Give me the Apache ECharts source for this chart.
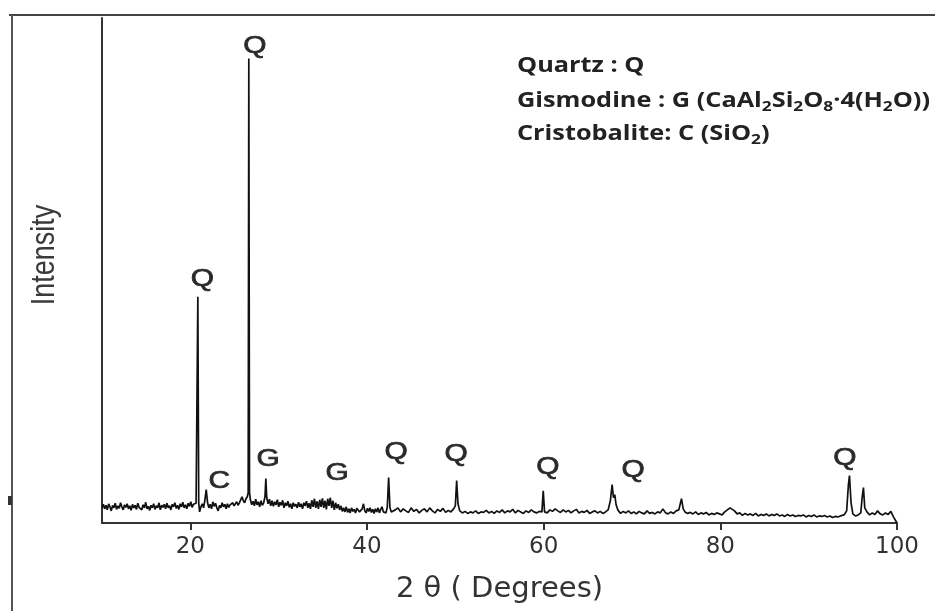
<!DOCTYPE html>
<html>
<head>
<meta charset="utf-8">
<script src="https://cdn.jsdelivr.net/npm/echarts@6/dist/echarts.min.js"></script>
<style>html,body{margin:0;padding:0;background:#fff;}#chart{width:935px;height:611px;}</style>
</head>
<body>
<div id="chart"></div>
<script>
// XRD pattern: [2θ (degrees), intensity (a.u.)]
const pattern = [
[10.00,150],[10.15,185],[10.30,140],[10.45,175],[10.60,130],[10.75,190],[10.90,160],[11.05,120],[11.20,175],[11.35,150],
[11.50,195],[11.65,135],[11.80,170],[11.95,145],[12.10,200],[12.25,160],[12.40,130],[12.55,180],[12.70,155],[12.85,190],
[13.00,140],[13.15,170],[13.30,125],[13.45,185],[13.60,150],[13.75,175],[13.90,135],[14.05,195],[14.20,155],[14.35,170],
[14.50,130],[14.65,180],[14.80,150],[14.95,205],[15.10,140],[15.25,165],[15.40,125],[15.55,175],[15.70,150],[15.85,190],
[16.00,135],[16.15,170],[16.30,150],[16.45,200],[16.60,130],[16.75,175],[16.90,155],[17.05,185],[17.20,140],[17.35,195],
[17.50,150],[17.65,170],[17.80,130],[17.95,185],[18.10,160],[18.25,200],[18.40,145],[18.55,175],[18.70,135],[18.85,190],
[19.00,160],[19.15,205],[19.30,150],[19.45,180],[19.60,140],[19.75,195],[19.90,165],[20.05,210],[20.20,155],[20.35,185],
[20.50,170],[20.65,195],[20.75,180],[20.85,2240],[20.95,200],[21.05,110],[21.20,160],[21.35,190],[21.50,150],[21.65,230],
[21.80,330],[21.95,200],[22.10,150],[22.25,185],[22.40,140],[22.55,210],[22.70,165],[22.85,195],[23.00,150],[23.15,120],
[23.30,175],[23.45,150],[23.60,200],[23.75,160],[23.90,185],[24.05,140],[24.20,190],[24.35,155],[24.50,180],[24.65,165],
[24.80,200],[24.95,170],[25.10,190],[25.25,210],[25.40,175],[25.55,200],[25.70,190],[25.85,260],[26.00,220],[26.15,200],
[26.30,240],[26.45,260],[26.55,300],[26.62,4600],[26.70,300],[26.80,230],[26.95,180],[27.10,215],[27.25,170],[27.40,235],
[27.55,180],[27.70,210],[27.85,160],[28.00,220],[28.15,175],[28.30,200],[28.45,260],[28.55,440],[28.65,250],[28.80,190],
[28.95,235],[29.10,170],[29.25,220],[29.40,165],[29.55,210],[29.70,180],[29.85,230],[30.00,160],[30.15,205],[30.30,175],
[30.45,225],[30.60,150],[30.75,200],[30.90,170],[31.05,215],[31.20,155],[31.35,190],[31.50,140],[31.65,200],[31.80,165],
[31.95,185],[32.10,150],[32.25,205],[32.40,160],[32.55,190],[32.70,140],[32.85,200],[33.00,170],[33.15,215],[33.30,150],
[33.45,195],[33.60,140],[33.75,225],[33.90,160],[34.05,240],[34.20,150],[34.35,215],[34.50,140],[34.65,230],[34.80,160],
[34.95,245],[35.10,150],[35.25,220],[35.40,135],[35.55,240],[35.70,170],[35.85,250],[36.00,150],[36.15,220],[36.30,130],
[36.45,200],[36.60,145],[36.75,185],[36.90,130],[37.05,170],[37.20,115],[37.35,150],[37.50,110],[37.65,160],[37.80,105],
[37.95,140],[38.10,100],[38.25,150],[38.40,115],[38.55,135],[38.70,100],[38.85,145],[39.00,160],[39.15,110],[39.30,95],
[39.45,140],[39.60,190],[39.75,120],[39.90,100],[40.05,145],[40.20,115],[40.35,150],[40.50,105],[40.65,135],[40.80,95],
[40.95,140],[41.10,110],[41.25,150],[41.40,100],[41.55,135],[41.70,160],[41.85,110],[42.00,125],[42.15,100],[42.30,160],
[42.45,450],[42.60,150],[42.75,110],[42.90,95],
[43.2,130],[43.5,150],[43.8,110],[44.1,140],[44.4,120],[44.7,105],[45.0,150],[45.3,115],[45.6,135],[45.9,100],
[46.2,125],[46.5,140],[46.8,110],[47.1,150],[47.4,120],[47.7,100],[48.0,135],[48.3,115],[48.6,145],[48.9,105],
[49.2,125],[49.5,110],[49.8,140],[50.0,170],[50.15,420],[50.3,190],[50.5,120],[50.8,100],[51.1,115],[51.4,95],
[51.7,110],[52.0,100],[52.3,120],[52.6,95],[52.9,110],[53.2,105],[53.5,125],[53.8,100],[54.1,115],[54.4,95],
[54.7,120],[55.0,105],[55.3,130],[55.6,100],[55.9,120],[56.2,110],[56.5,135],[56.8,100],[57.1,125],[57.4,110],
[57.7,95],[58.0,120],[58.3,105],[58.6,130],[58.9,110],[59.2,100],[59.5,115],[59.8,110],[59.95,320],[60.1,110],
[60.4,100],[60.7,130],[61.0,115],[61.3,140],[61.6,120],[61.9,105],[62.2,130],[62.5,110],[62.8,125],[63.1,100],
[63.4,120],[63.7,135],[64.0,100],[64.3,115],[64.6,105],[64.9,125],[65.2,95],[65.5,110],[65.8,120],[66.1,100],
[66.4,115],[66.7,95],[67.0,110],[67.3,130],[67.55,220],[67.75,380],[67.9,250],[68.05,280],[68.2,180],[68.4,130],
[68.7,95],[69.0,115],[69.3,100],[69.6,120],[69.9,95],[70.2,110],[70.5,90],[70.8,115],[71.1,100],[71.4,90],
[71.7,120],[72.0,95],[72.3,105],[72.6,90],[72.9,110],[73.2,100],[73.5,140],[73.8,100],[74.1,90],[74.4,110],
[74.7,95],[75.0,120],[75.3,130],[75.6,240],[75.8,140],[76.0,110],[76.3,95],[76.6,105],[76.9,90],[77.2,110],
[77.5,85],[77.8,100],[78.1,90],[78.4,105],[78.7,80],[79.0,95],[79.3,85],[79.6,100],[79.9,90],[80.2,80],
[80.5,110],[80.8,130],[81.1,150],[81.3,165],[81.6,120],[81.9,90],[82.2,100],[82.5,75],[82.8,95],[83.1,80],
[83.4,90],[83.7,75],[84.0,95],[84.3,70],[84.6,85],[84.9,75],[85.2,90],[85.5,70],[85.8,85],[86.1,75],
[86.4,90],[86.7,70],[87.0,80],[87.3,65],[87.6,85],[87.9,70],[88.2,80],[88.5,65],[88.8,75],[89.1,70],
[89.4,80],[89.7,60],[90.0,75],[90.3,65],[90.6,80],[90.9,60],[91.2,70],[91.5,65],[91.8,75],[92.1,60],
[92.4,70],[92.7,55],[93.0,65],[93.3,60],[93.6,70],[94.0,80],[94.3,120],[94.5,380],[94.62,470],[94.8,200],
[95.0,90],[95.3,70],[95.6,80],[95.9,100],[96.05,250],[96.2,350],[96.35,150],[96.6,110],[96.9,80],[97.2,100],
[97.5,85],[97.8,120],[98.1,90],[98.4,80],[98.7,100],[99.0,85],[99.3,115],[99.6,60],[99.8,30],[100.0,0]
];

// Phase labels above peaks
const peakLabels = ['Q','Q','C','G','G','Q','Q','Q','Q','Q'];
const peakLabelX = [27.3, 21.35, 23.27, 28.81, 36.62, 43.29, 50.08, 60.49, 70.12, 94.1];
const peakLabelY = [4717, 2411, 411, 629, 490, 698, 678, 549, 520, 639];

const xTicks = [20, 40, 60, 80, 100];
const xName = '2 θ ( Degrees)';
const yName = 'Intensity';

const chart = echarts.init(document.getElementById('chart'), null, {renderer: 'canvas'});
const labelData = peakLabels.map((t, i) => [peakLabelX[i], peakLabelY[i]]);
const legendFont = 'Open Sans';
const legendSize = 22;
const legendScale = 1.15;
const sub = {fontSize: 15, fontWeight: 'bold', fontFamily: legendFont, fill: '#222', lineHeight: 8, verticalAlign: 'bottom'};

chart.setOption({
  animation: false,
  backgroundColor: '#fff',
  grid: {left: 102, right: 38, top: 18, bottom: 88, containLabel: false},
  xAxis: {
    type: 'value', min: 10, max: 100,
    name: xName, nameLocation: 'middle', nameGap: 52,
    nameTextStyle: {fontFamily: 'DejaVu Sans', fontSize: 29, color: '#333'},
    axisLine: {show: true, onZero: false, lineStyle: {color: '#333', width: 2}},
    axisTick: {show: true, customValues: xTicks, length: 7, inside: false, lineStyle: {color: '#333', width: 2}},
    axisLabel: {show: true, customValues: xTicks, margin: 13, fontFamily: 'DejaVu Sans', fontSize: 23, color: '#333'},
    splitLine: {show: false}
  },
  yAxis: {
    type: 'value', min: 0, max: 5000,
    axisLine: {show: true, onZero: false, lineStyle: {color: '#333', width: 2}},
    axisTick: {show: false}, axisLabel: {show: false}, splitLine: {show: false}
  },
  series: [
    {
      type: 'line', data: pattern, symbol: 'none', smooth: false,
      lineStyle: {color: '#111', width: 1.7}, z: 3
    },
    {
      type: 'custom', data: labelData, z: 4, silent: true,
      encode: {x: 0, y: 1},
      renderItem: function (params, api) {
        const p = api.coord([api.value(0), api.value(1)]);
        return {
          type: 'text', x: p[0], y: p[1], scaleX: 1.3,
          style: {text: peakLabels[params.dataIndex], align: 'center', verticalAlign: 'middle',
            fontFamily: 'Liberation Sans', fontSize: 23, fill: '#2a2a2a', stroke: '#2a2a2a', lineWidth: 0.7}
        };
      }
    }
  ],
  graphic: [
    {type: 'line', shape: {x1: 9, y1: 15, x2: 935, y2: 15}, style: {stroke: '#444', lineWidth: 2}, silent: true},
    {type: 'line', shape: {x1: 12, y1: 15, x2: 12, y2: 611}, style: {stroke: '#555', lineWidth: 2}, silent: true},
    {type: 'rect', shape: {x: 8, y: 496, width: 4, height: 9}, style: {fill: '#333'}, silent: true},
    {type: 'text', x: 45, y: 255, rotation: Math.PI / 2, scaleY: 1.2, silent: true,
      style: {text: yName, align: 'center', verticalAlign: 'middle', fontFamily: 'Liberation Sans', fontSize: 27, fill: '#3a3a3a'}},
    {type: 'text', x: 517, y: 66, scaleX: legendScale, silent: true,
      style: {text: 'Quartz : Q', align: 'left', verticalAlign: 'middle', fontFamily: legendFont, fontWeight: 'bold', fontSize: legendSize, fill: '#222', lineHeight: 26}},
    {type: 'text', x: 517, y: 101, scaleX: legendScale, silent: true,
      style: {text: 'Gismodine : G (CaAl{s|2}Si{s|2}O{s|8}·4(H{s|2}O))', align: 'left', verticalAlign: 'middle', fontFamily: legendFont, fontWeight: 'bold', fontSize: legendSize, fill: '#222', lineHeight: 26, rich: {s: sub}}},
    {type: 'text', x: 517, y: 134, scaleX: legendScale, silent: true,
      style: {text: 'Cristobalite: C (SiO{s|2})', align: 'left', verticalAlign: 'middle', fontFamily: legendFont, fontWeight: 'bold', fontSize: legendSize, fill: '#222', lineHeight: 26, rich: {s: sub}}}
  ]
});
</script>
</body>
</html>
